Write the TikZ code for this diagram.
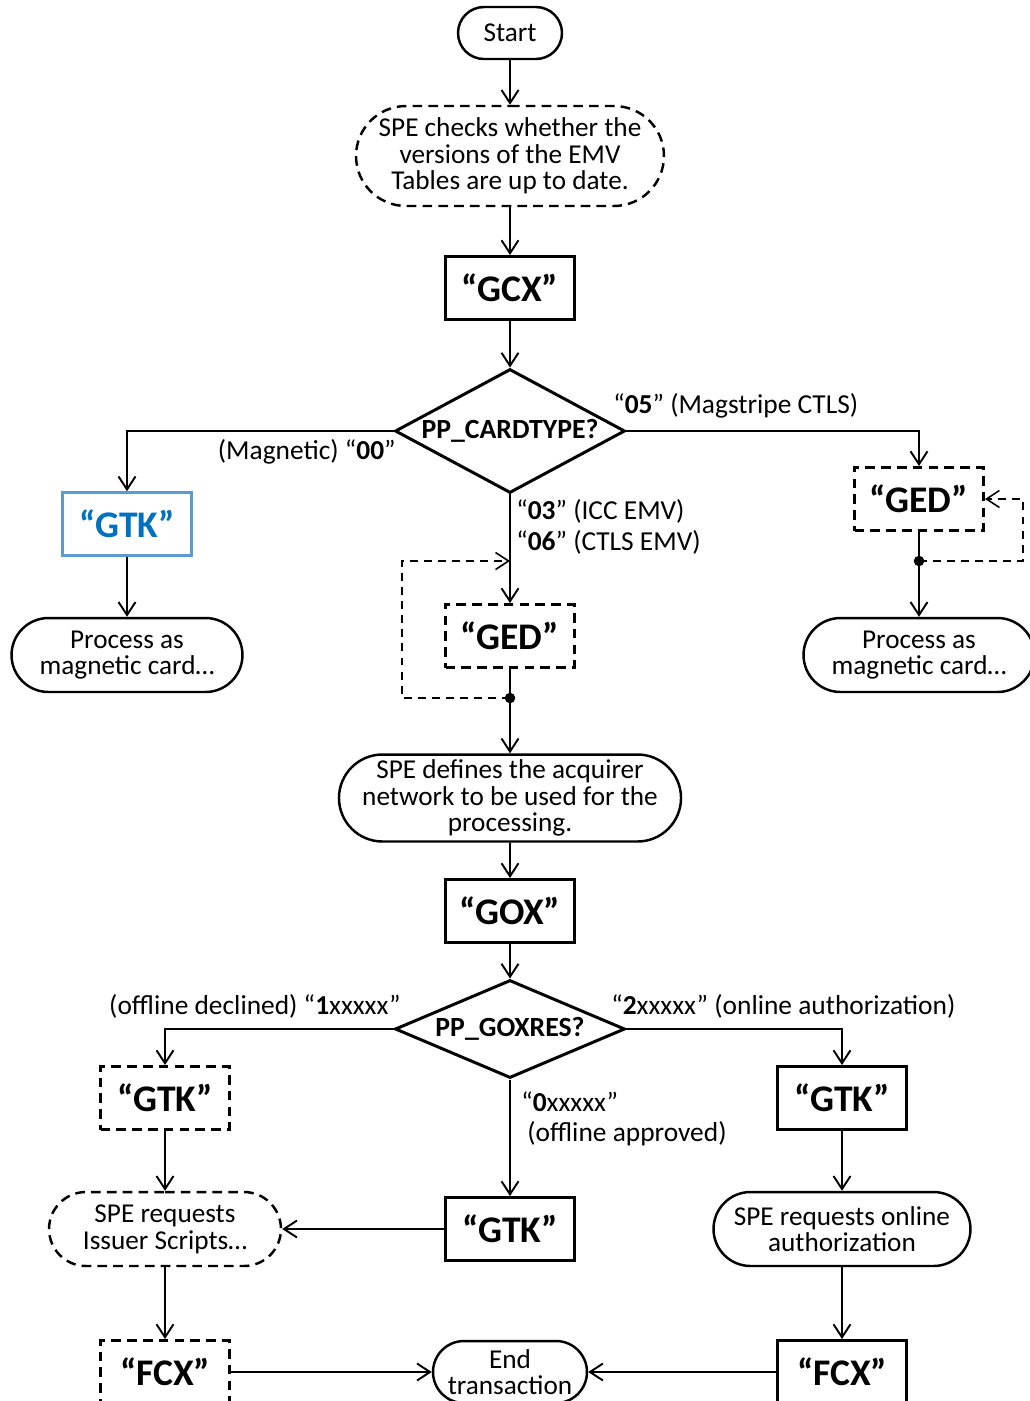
\documentclass[tikz,border=0pt]{standalone}
\usepackage{fontspec}
\setmainfont{Carlito}
\usetikzlibrary{arrows.meta, shapes.geometric, shapes.misc}
\definecolor{gtkblue}{RGB}{0,112,192}
\definecolor{gtkframe}{RGB}{91,155,213}

\begin{document}
\begin{tikzpicture}[x=0.02cm, y=-0.02cm, >={Straight Barb[length=0.26cm, width=0.34cm]},
		every node/.style={font=\fontsize{15.5}{15.2}\selectfont, align=center, inner sep=0pt},
		term/.style={draw, rounded rectangle, line width=1.4pt},
		optterm/.style={term, dash pattern=on 5.5pt off 3.5pt},
		cmd/.style={draw, rectangle, line width=1.7pt, minimum width=2.58cm, minimum height=1.26cm,
						font=\fontsize{21.4}{24}\selectfont\bfseries},
		optcmd/.style={cmd, dash pattern=on 5.5pt off 3.5pt},
		decision/.style={draw, diamond, line width=1.7pt, minimum width=4.6cm,
						font=\fontsize{15.8}{17}\selectfont\bfseries},
		flow/.style={->, line width=1.1pt},
		retry/.style={->, line width=0.9pt, dash pattern=on 4.5pt off 3.5pt},
		lbl/.style={font=\fontsize{15.6}{18}\selectfont, align=left}]
	\useasboundingbox (0,0) rectangle (1029,1401);

	\node[term, minimum width=2.08cm, minimum height=1.04cm] (start) at (510,33) {Start};
	\node[optterm, minimum width=6.16cm, minimum height=2cm] (check) at (510,156) {SPE checks whether the\\versions of the EMV\\Tables are up to date.};
	\node[cmd] (gcx) at (510,288) {“GCX”};
	\node[decision, aspect=1.85, minimum height=2.48cm] (cardtype) at (510,431) {PP\_CARDTYPE?};

	\node[cmd, draw=gtkframe, text=gtkblue, line width=1.5pt] (gtkmag) at (127,524) {“GTK”};
	\node[term, minimum width=4.62cm, minimum height=1.48cm] (procL) at (127,655) {Process as\\magnetic card…};
	\node[optcmd] (gedR) at (919,499) {“GED”};
	\node[term, minimum width=4.62cm, minimum height=1.48cm] (procR) at (919,655) {Process as\\magnetic card…};
	\node[optcmd] (gedC) at (510,636) {“GED”};
	\node[term, minimum width=6.66cm, minimum height=1.74cm] (defnet) at (510,798) {SPE defines the acquirer\\network to be used for the\\processing.};

	\node[cmd] (gox) at (510,911) {“GOX”};
	\node[decision, aspect=2.35, minimum height=1.96cm] (goxres) at (510,1029) {PP\_GOXRES?};
	\node[optcmd] (gtkdecl) at (165,1098) {“GTK”};
	\node[cmd] (gtkonl) at (842,1098) {“GTK”};
	\node[cmd] (gtkappr) at (510,1229) {“GTK”};
	\node[optterm, minimum width=4.64cm, minimum height=1.48cm] (scripts) at (165,1229) {SPE requests\\Issuer Scripts…};
	\node[term, minimum width=5.14cm, minimum height=1.48cm] (online) at (842,1229) {SPE requests online\\authorization};
	\node[optcmd] (fcxL) at (165,1372) {“FCX”};
	\node[term, minimum width=3.08cm, minimum height=1.24cm] (endtx) at (510,1372) {End\\transaction};
	\node[cmd] (fcxR) at (842,1372) {“FCX”};

	\node[lbl, anchor=east] (lblmag) at (396,452) {(Magnetic) “\textbf{00}”};
	\node[lbl, anchor=west] (lblctls) at (613,406) {“\textbf{05}” (Magstripe CTLS)};
	\node[lbl, anchor=north west] (lblemv) at (516,499) {“\textbf{03}” (ICC EMV)\\[-0.4pt]“\textbf{06}” (CTLS EMV)};
	\node[lbl, anchor=east] (lbldecl) at (401,1006) {(offline declined) “\textbf{1}xxxxx”};
	\node[lbl, anchor=west] (lblonl) at (611,1006) {“\textbf{2}xxxxx” (online authorization)};
	\node[lbl, anchor=west] (lblzero) at (521,1102) {“\textbf{0}xxxxx”};
	\node[lbl, anchor=west] (lblappr) at (527,1134) {(offline approved)};

	\coordinate (dotR) at (919,561);
	\coordinate (dotC) at (510,698);
	\coordinate (inC) at (510,561);

	\draw[flow] (start) -- (check);
	\draw[flow] (check) -- (gcx);
	\draw[flow] (gcx) -- (cardtype);
	\draw[flow] (cardtype.west) -| (gtkmag.north);
	\draw[flow] (gtkmag) -- (procL);
	\draw[flow] (cardtype.east) -| (gedR.north);
	\draw[flow] (gedR.south) -- (procR.north);
	\fill (dotR) circle (3pt);
	\draw[retry] (dotR) -- ++(104,0) |- (gedR.east);
	\draw[flow] (cardtype.south) -- (gedC.north);
	\draw[flow] (gedC.south) -- (defnet.north);
	\fill (dotC) circle (3pt);
	\draw[retry] (dotC) -- ++(-108,0) |- (inC);
	\draw[flow] (defnet) -- (gox);
	\draw[flow] (gox) -- (goxres);

	\draw[flow] (goxres.west) -| (gtkdecl.north);
	\draw[flow] (goxres.east) -| (gtkonl.north);
	\draw[flow] (goxres.south) -- (gtkappr.north);
	\draw[flow] (gtkdecl) -- (scripts);
	\draw[flow] (gtkappr.west) -- (scripts.east);
	\draw[flow] (scripts) -- (fcxL);
	\draw[flow] (gtkonl) -- (online);
	\draw[flow] (online) -- (fcxR);
	\draw[flow] (fcxL.east) -- (endtx.west);
	\draw[flow] (fcxR.west) -- (endtx.east);
\end{tikzpicture}
\end{document}
